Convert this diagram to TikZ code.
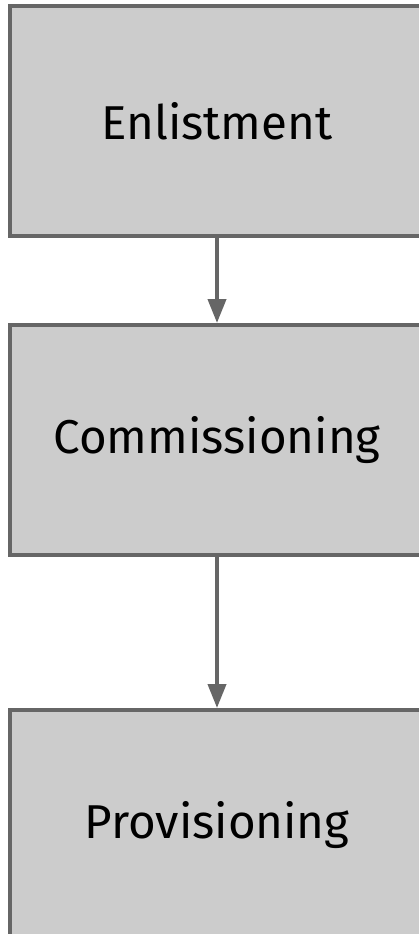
\documentclass[tikz,border=0pt]{standalone}
\usepackage{fontspec}
\setmainfont{Fira Sans}
\usetikzlibrary{arrows.meta,positioning}
\definecolor{boxfill}{HTML}{CCCCCC}
\definecolor{boxline}{HTML}{666666}

\begin{document}
\begin{tikzpicture}[x=1pt,y=1pt,
  stage/.style={draw=boxline,fill=boxfill,line width=4pt,rectangle,
    minimum width=414pt,minimum height=230pt,inner sep=0pt,
    font=\fontsize{47.5}{55}\selectfont},
  flow/.style={draw=boxline,line width=4pt,-{Triangle[length=24pt,width=18pt]}}]
\useasboundingbox (0,0) rectangle (419,-934);
\clip (0,0) rectangle (419,-934);
\node[stage] (enlist) at (217,-121) {Enlistment};
\node[stage,below=85pt of enlist] (commission) {Commissioning};
\node[stage,below=151pt of commission] (provision) {Provisioning};
\draw[flow] (enlist) -- (commission);
\draw[flow] (commission) -- (provision);
\end{tikzpicture}
\end{document}
